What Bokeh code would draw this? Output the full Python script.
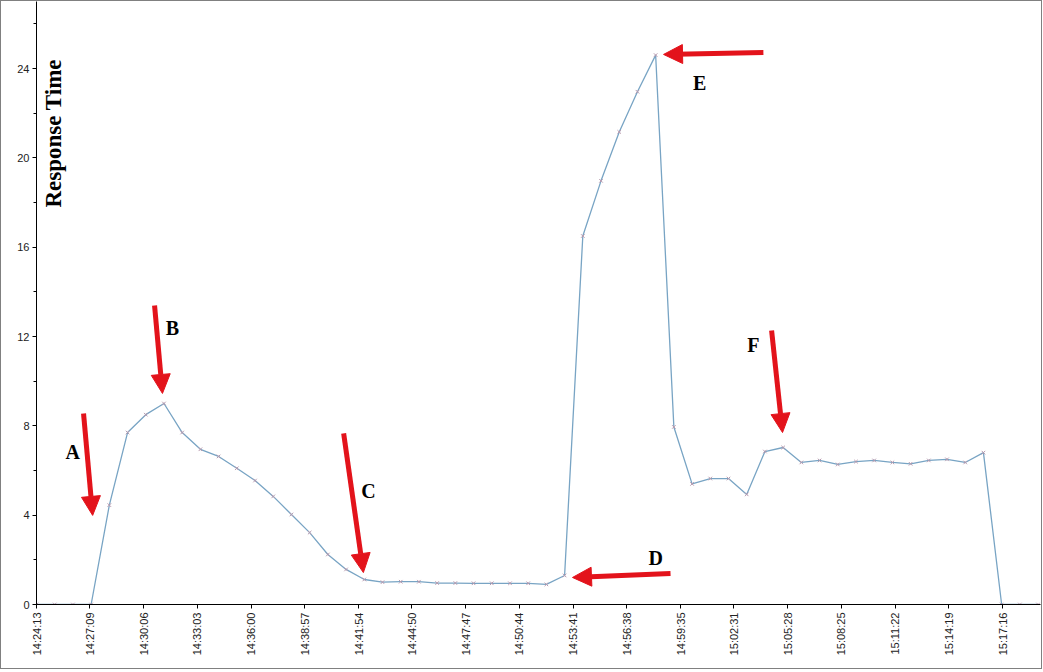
import math
from bokeh.plotting import figure
from bokeh.models import FixedTicker, SingleIntervalTicker, Range1d, Arrow, NormalHead, Label
from bokeh.embed import file_html
from bokeh.resources import INLINE

# ---- data ----
sample_times = [
    "14:24:13", "14:25:13", "14:26:13", "14:27:13", "14:28:13", "14:29:13", "14:30:13", "14:31:13",
    "14:32:13", "14:33:13", "14:34:13", "14:35:13", "14:36:13", "14:37:13", "14:38:13", "14:39:13",
    "14:40:13", "14:41:13", "14:42:13", "14:43:13", "14:44:13", "14:45:13", "14:46:13", "14:47:13",
    "14:48:13", "14:49:13", "14:50:13", "14:51:13", "14:52:13", "14:53:13", "14:54:13", "14:55:13",
    "14:56:13", "14:57:13", "14:58:13", "14:59:13", "15:00:13", "15:01:13", "15:02:13", "15:03:13",
    "15:04:13", "15:05:13", "15:06:13", "15:07:13", "15:08:13", "15:09:13", "15:10:13", "15:11:13",
    "15:12:13", "15:13:13", "15:14:13", "15:15:13", "15:16:13", "15:17:13", "15:18:13", "15:19:13",
]
response_time = [
    0, 0, 0, 0, 4.45, 7.7, 8.5, 9.0,
    7.7, 6.95, 6.63, 6.1, 5.55, 4.84, 4.03, 3.22,
    2.24, 1.57, 1.12, 1.0, 1.02, 1.02, 0.96, 0.96,
    0.95, 0.95, 0.95, 0.95, 0.9, 1.3, 16.5, 18.97,
    21.16, 22.96, 24.6, 7.95, 5.4, 5.64, 5.64, 4.93,
    6.85, 7.03, 6.36, 6.45, 6.27, 6.4, 6.45, 6.36,
    6.3, 6.45, 6.5, 6.36, 6.8, 0, 0, 0,
]
tick_labels = [
    "14:24:13", "14:27:09", "14:30:06", "14:33:03", "14:36:00", "14:38:57", "14:41:54",
    "14:44:50", "14:47:47", "14:50:44", "14:53:41", "14:56:38", "14:59:35", "15:02:31",
    "15:05:28", "15:08:25", "15:11:22", "15:14:19", "15:17:16",
]

# annotations: letter, arrow tail (x s, y), arrow tip (x s, y), letter position (x s, y)
annot_letters = ["A", "B", "C", "D", "E", "F"]
annot_tail = [(155, 8.55), (389, 13.39), (1012, 7.66), (2089, 1.39), (2395, 24.72), (2422, 12.27)]
annot_tip = [(185, 3.99), (415, 9.45), (1077, 1.43), (1766, 1.21), (2066, 24.63), (2458, 7.70)]
annot_text = [(119, 6.85), (448, 12.36), (1094, 5.1), (2040, 2.1), (2185, 23.33), (2362, 11.64)]


def secs(t):
    h, m, s = map(int, t.split(":"))
    return h * 3600 + m * 60 + s


t0 = secs(sample_times[0])
xs = [secs(t) - t0 for t in sample_times]
tick_pos = [secs(t) - t0 for t in tick_labels]

p = figure(
    frame_width=1004, frame_height=603,
    min_border_left=35, min_border_right=1, min_border_top=0, min_border_bottom=64,
    x_range=Range1d(0, 3308), y_range=Range1d(0, 27.0),
    output_backend="svg", toolbar_location=None,
)
p.styles = {"border": "1px solid #808080"}
p.background_fill_color = "white"
p.border_fill_color = "white"
p.outline_line_color = None
p.xgrid.visible = False
p.ygrid.visible = False

# y axis
p.yaxis.ticker = SingleIntervalTicker(interval=4, num_minor_ticks=2)
p.yaxis.axis_line_color = "black"
p.yaxis.major_tick_line_color = "black"
p.yaxis.minor_tick_line_color = "black"
p.yaxis.major_tick_out = 4
p.yaxis.major_tick_in = 0
p.yaxis.minor_tick_out = 3
p.yaxis.minor_tick_in = 0
p.yaxis.major_label_text_font = "Liberation Sans"
p.yaxis.major_label_text_font_size = "11px"
p.yaxis.major_label_text_color = "#222222"
p.yaxis.major_label_standoff = 3

# x axis
p.xaxis.ticker = FixedTicker(ticks=tick_pos, minor_ticks=[])
p.xaxis.major_label_overrides = {tp: lab for tp, lab in zip(tick_pos, tick_labels)}
p.xaxis.major_label_orientation = math.pi / 2
p.xaxis.axis_line_color = "black"
p.xaxis.major_tick_line_color = "black"
p.xaxis.major_tick_out = 4
p.xaxis.major_tick_in = 0
p.xaxis.major_label_text_font = "Liberation Sans"
p.xaxis.major_label_text_font_size = "11px"
p.xaxis.major_label_text_color = "#222222"
p.xaxis.major_label_standoff = 4

# series
p.line(xs, response_time, line_color="#78a4c4", line_width=1.3)
p.scatter(xs, response_time, marker="x", size=5, line_color="#b89aae", line_width=1)

# y title inside plot
p.add_layout(Label(x=56, y=21.1, text="Response Time", angle=math.pi / 2,
                   text_font="Liberation Serif", text_font_style="bold",
                   text_font_size="23px", text_color="black",
                   text_align="center", text_baseline="middle"))

red = "#e3131b"
for letter, tail, tip, pos in zip(annot_letters, annot_tail, annot_tip, annot_text):
    p.add_layout(Arrow(end=NormalHead(size=19, fill_color=red, line_color=red, line_width=1),
                       x_start=tail[0], y_start=tail[1], x_end=tip[0], y_end=tip[1],
                       line_color=red, line_width=5))
    p.add_layout(Label(x=pos[0], y=pos[1], text=letter,
                       text_font="Liberation Serif", text_font_style="bold",
                       text_font_size="20px", text_color="black",
                       text_align="center", text_baseline="middle"))

open("out.html", "w").write(file_html(p, INLINE))
